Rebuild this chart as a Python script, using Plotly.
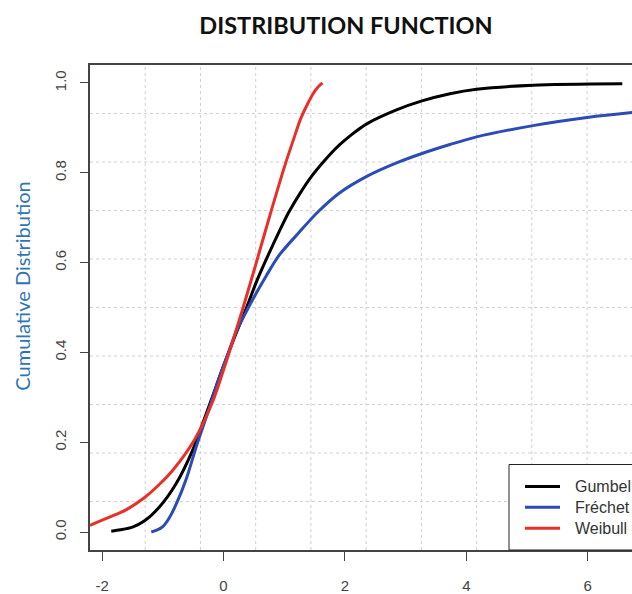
import plotly.graph_objects as go

# ---- data ----
gumbel_x = [-1.85, -1.70, -1.50, -1.30, -1.06, -0.78, -0.51, -0.37, -0.20, 0.00, 0.20, 0.38,
            0.55, 0.73, 0.92, 1.07, 1.25, 1.45, 1.75, 1.91, 2.10, 2.36, 2.85, 3.27, 3.73, 4.17, 5.10, 6.57]
gumbel_y = [0.002, 0.005, 0.011, 0.025, 0.055, 0.108, 0.182, 0.232, 0.295, 0.370, 0.440, 0.500,
            0.560, 0.615, 0.670, 0.711, 0.752, 0.792, 0.840, 0.862, 0.884, 0.909, 0.940, 0.960, 0.976, 0.986, 0.995, 0.998]

frechet_x = [-1.19, -1.10, -1.00, -0.90, -0.78, -0.61, -0.45, -0.28, -0.10, 0.05, 0.20, 0.43,
             0.71, 0.92, 1.25, 1.55, 1.91, 2.36, 2.85, 3.27, 3.73, 4.17, 5.10, 5.99, 6.73, 6.90]
frechet_y = [0.000, 0.004, 0.012, 0.030, 0.062, 0.120, 0.190, 0.258, 0.332, 0.388, 0.443, 0.505,
             0.572, 0.617, 0.668, 0.712, 0.755, 0.792, 0.822, 0.843, 0.863, 0.880, 0.905, 0.923, 0.934, 0.936]

weibull_x = [-2.20, -1.88, -1.60, -1.30, -1.05, -0.84, -0.48, -0.18, 0.05, 0.31, 0.54,
             0.77, 1.01, 1.15, 1.27, 1.38, 1.47, 1.55, 1.63]
weibull_y = [0.015, 0.033, 0.050, 0.077, 0.107, 0.137, 0.205, 0.290, 0.382, 0.494, 0.600,
             0.708, 0.816, 0.873, 0.920, 0.952, 0.975, 0.990, 1.000]

series_names = ["Gumbel", "Fréchet", "Weibull"]
series_colors = ["#000000", "#2B4BB5", "#E8302A"]

x_ticks = [-2, 0, 2, 4, 6]
x_tick_labels = ["-2", "0", "2", "4", "6"]
y_ticks = [0.0, 0.2, 0.4, 0.6, 0.8, 1.0]
y_tick_labels = ["0.0", "0.2", "0.4", "0.6", "0.8", "1.0"]

x_full_range = [-2.2, 6.9]      # full plotting region (partly cropped on the right)
x_view_range = [-2.2, 6.73]
y_range = [-0.04, 1.04]
n_grid = 10

# ---- figure ----
fig = go.Figure()
for xs, ys, name, col in zip([gumbel_x, frechet_x, weibull_x],
                             [gumbel_y, frechet_y, weibull_y],
                             series_names, series_colors):
    fig.add_trace(go.Scatter(x=xs, y=ys, mode="lines", name=name,
                             line=dict(color=col, width=3, shape="spline", smoothing=0.8),
                             showlegend=False))

shapes = []
# dotted grid dividing the full region in equal parts
for k in range(1, n_grid):
    gx = x_full_range[0] + k * (x_full_range[1] - x_full_range[0]) / n_grid
    shapes.append(dict(type="line", xref="x", yref="paper", x0=gx, x1=gx, y0=0, y1=1,
                       line=dict(color="#D0D0D0", width=1, dash="dot"), layer="below"))
    gy = y_range[0] + k * (y_range[1] - y_range[0]) / n_grid
    shapes.append(dict(type="line", xref="paper", yref="y", x0=0, x1=1.05, y0=gy, y1=gy,
                       line=dict(color="#D0D0D0", width=1, dash="dot"), layer="below"))

# legend box (drawn manually, R style)
L, PW, T, PH = 90, 542, 65, 488
def px_x(p):
    return (p - L) / PW
def px_y(p):
    return (T + PH - p) / PH

shapes.append(dict(type="rect", xref="paper", yref="paper",
                   x0=px_x(509), x1=px_x(660), y0=px_y(553), y1=px_y(467),
                   line=dict(color="#222222", width=1), fillcolor="white", layer="above"))
annotations = []
rows = [489, 510, 531]
for name, col, ry in zip(series_names, series_colors, rows):
    shapes.append(dict(type="line", xref="paper", yref="paper",
                       x0=px_x(525), x1=px_x(560), y0=px_y(ry), y1=px_y(ry),
                       line=dict(color=col, width=3), layer="above"))
    annotations.append(dict(text=name, xref="paper", yref="paper", x=px_x(573), y=px_y(ry),
                            xanchor="left", yanchor="middle", showarrow=False,
                            font=dict(family="Liberation Sans, Arial", size=16, color="#333333")))

annotations.append(dict(text="Cumulative Distribution", xref="paper", yref="paper",
                        x=px_x(22), y=px_y(288), xanchor="center", yanchor="middle",
                        textangle=-90, showarrow=False,
                        font=dict(family="Lato, Open Sans, sans-serif", size=20, color="#2E75B6")))

fig.update_layout(
    width=632, height=594,
    margin=dict(l=90, r=0, t=65, b=41, pad=0),
    paper_bgcolor="white", plot_bgcolor="white",
    title=dict(text="<b>DISTRIBUTION FUNCTION</b>", xref="container", yref="container",
               x=346 / 632, y=1 - 26 / 594, xanchor="center", yanchor="middle",
               font=dict(family="Lato, Open Sans, sans-serif", size=23.5, color="#111111")),
    xaxis=dict(range=x_view_range, tickvals=x_ticks, ticktext=x_tick_labels,
               ticks="outside", ticklen=9,
               tickcolor="#444444", tickwidth=1, showline=True, linecolor="#444444",
               linewidth=1.5, mirror=True, showgrid=False, zeroline=False,
               ticklabelstandoff=12,
               tickfont=dict(family="Liberation Sans, Arial", size=15, color="#444444")),
    yaxis=dict(range=y_range, tickvals=y_ticks, ticktext=y_tick_labels, tickangle=-90,
               ticks="outside", ticklen=8, tickcolor="#444444", tickwidth=1,
               showline=True, linecolor="#444444", linewidth=1.5, showgrid=False,
               zeroline=False, ticklabelstandoff=8,
               tickfont=dict(family="Liberation Sans, Arial", size=15, color="#444444")),
    shapes=shapes, annotations=annotations,
)

fig.write_html("out.html")
